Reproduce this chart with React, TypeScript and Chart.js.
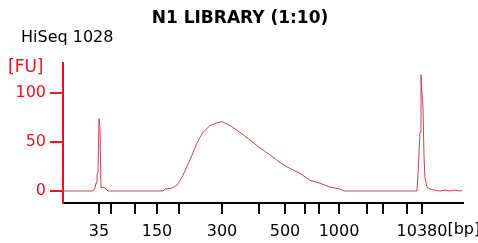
import React, { useEffect, useRef } from "react";
import { Chart, registerables } from "chart.js";

Chart.register(...registerables);

// Migration time (s) and fluorescence (FU)
const timeSec = [
  40, 46, 46.4, 46.6, 46.8, 47.0, 47.2, 47.4, 47.6, 48.0, 48.4, 48.8, 49.0,
  60.0, 60.4, 61.8, 62.8, 64.0, 65.4, 66.8, 67.4, 68.0, 69.4, 71.0, 71.8,
  73.4, 75.4, 77.4, 79.4, 81.4, 83.4, 85.4, 87.4, 89.4, 91.4, 93.4, 95.4, 96.2,
  110.8, 111.0, 111.4, 111.6, 111.8, 112.0, 112.2, 112.4, 112.8, 113.4, 114.2,
  115.4, 116.4, 117.4, 118.4, 119.4, 119.8,
];
const fu = [
  0, 0, 3, 8, 16, 20, 74, 64, 3, 4, 3, 1, 0,
  0, 2, 3, 6, 16, 32, 49, 55, 60, 67, 70, 71,
  67, 60, 52, 44, 37, 29, 23, 18, 11, 8, 4, 2, 0,
  0, 18, 60, 119, 100, 86, 35, 13, 4, 2, 1,
  0, 1, 0, 1, 0, 1,
];

// Ladder sizes (bp) and their migration times (s)
const ladderBp = [35, 50, 100, 150, 200, 300, 400, 500, 600, 700, 1000, 2000, 3000, 7000, 10380];
const ladderTime = [47.2, 49.6, 54.4, 58.8, 63.2, 71.8, 79.2, 84.4, 88.4, 91.2, 95.2, 100.8, 104, 108.8, 111.8];
const labeledBp = [35, 150, 300, 500, 1000, 10380];
const yTicks = [0, 50, 100];

const titleText = "N1 LIBRARY (1:10)";
const subtitleText = "HiSeq 1028";
const yUnit = "[FU]";
const xUnit = "[bp]";

const RED = "#e8141e";
const LINE = "#c8454b";
const FONT = "'DejaVu Sans', sans-serif";
const X_TICK_LEN = 11;
const X_PAD = 8;

export default function App() {
  const ref = useRef<HTMLCanvasElement>(null);
  useEffect(() => {
    const textPlugin = {
      id: "texts",
      afterDraw(chart: any) {
        const ctx = chart.ctx;
        ctx.save();
        ctx.textBaseline = "alphabetic";
        ctx.fillStyle = "#000";
        ctx.font = `bold 17px ${FONT}`;
        ctx.textAlign = "center";
        ctx.fillText(titleText, 240, 23);
        ctx.font = `16px ${FONT}`;
        ctx.textAlign = "left";
        ctx.fillText(subtitleText, 21, 42);
        ctx.fillStyle = RED;
        ctx.font = `17px ${FONT}`;
        ctx.fillText(yUnit, 8, 72);
        // [bp] after last ladder label
        const xs = chart.scales.x;
        const last = ladderTime[ladderTime.length - 1];
        const px = xs.getPixelForValue(last);
        ctx.font = `16px ${FONT}`;
        const w = ctx.measureText(String(ladderBp[ladderBp.length - 1])).width;
        ctx.fillStyle = "#000";
        ctx.textBaseline = "top";
        ctx.fillText(xUnit, px + w / 2, xs.top + X_TICK_LEN + X_PAD);
        ctx.restore();
      },
    };
    const chart = new Chart(ref.current!, {
      type: "line",
      data: {
        datasets: [
          {
            data: timeSec.map((t, i) => ({ x: t, y: fu[i] })),
            borderColor: LINE,
            borderWidth: 1,
            pointRadius: 0,
            tension: 0,
            fill: false,
          },
        ],
      },
      options: {
        animation: false,
        responsive: false,
        maintainAspectRatio: false,
        layout: { padding: { top: 63, right: 15, left: 0, bottom: 0 } },
        plugins: { legend: { display: false }, tooltip: { enabled: false }, title: { display: false } },
        scales: {
          x: {
            type: "linear",
            min: 40,
            max: 120,
            afterBuildTicks(scale: any) {
              scale.ticks = ladderTime.map((v) => ({ value: v }));
            },
            afterFit(scale: any) {
              scale.height = 40;
            },
            ticks: {
              autoSkip: false,
              maxRotation: 0,
              color: "#000",
              padding: X_PAD,
              font: { family: FONT, size: 16 },
              callback(value: any) {
                const idx = ladderTime.indexOf(Number(value));
                if (idx < 0) return "";
                const bp = ladderBp[idx];
                return labeledBp.includes(bp) ? String(bp) : "";
              },
            },
            grid: { display: true, drawOnChartArea: false, drawTicks: true, tickLength: X_TICK_LEN, color: "#000", lineWidth: 2 },
            border: { display: true, color: "#000", width: 2 },
          },
          y: {
            min: -12.3,
            max: 131,
            afterBuildTicks(scale: any) {
              scale.ticks = yTicks.map((v) => ({ value: v }));
            },
            afterFit(scale: any) {
              scale.width = 63;
            },
            ticks: {
              color: RED,
              padding: 4,
              font: { family: FONT, size: 16 },
            },
            grid: { display: true, drawOnChartArea: false, drawTicks: true, tickLength: 13, color: RED, lineWidth: 2 },
            border: { display: true, color: RED, width: 2 },
          },
        },
      },
      plugins: [textPlugin],
    });
    return () => chart.destroy();
  }, []);
  return (
    <div style={{ position: "fixed", left: 0, top: 0, width: 478, height: 243, background: "#fff" }}>
      <canvas ref={ref} width={478} height={243} style={{ display: "block" }} />
    </div>
  );
}
